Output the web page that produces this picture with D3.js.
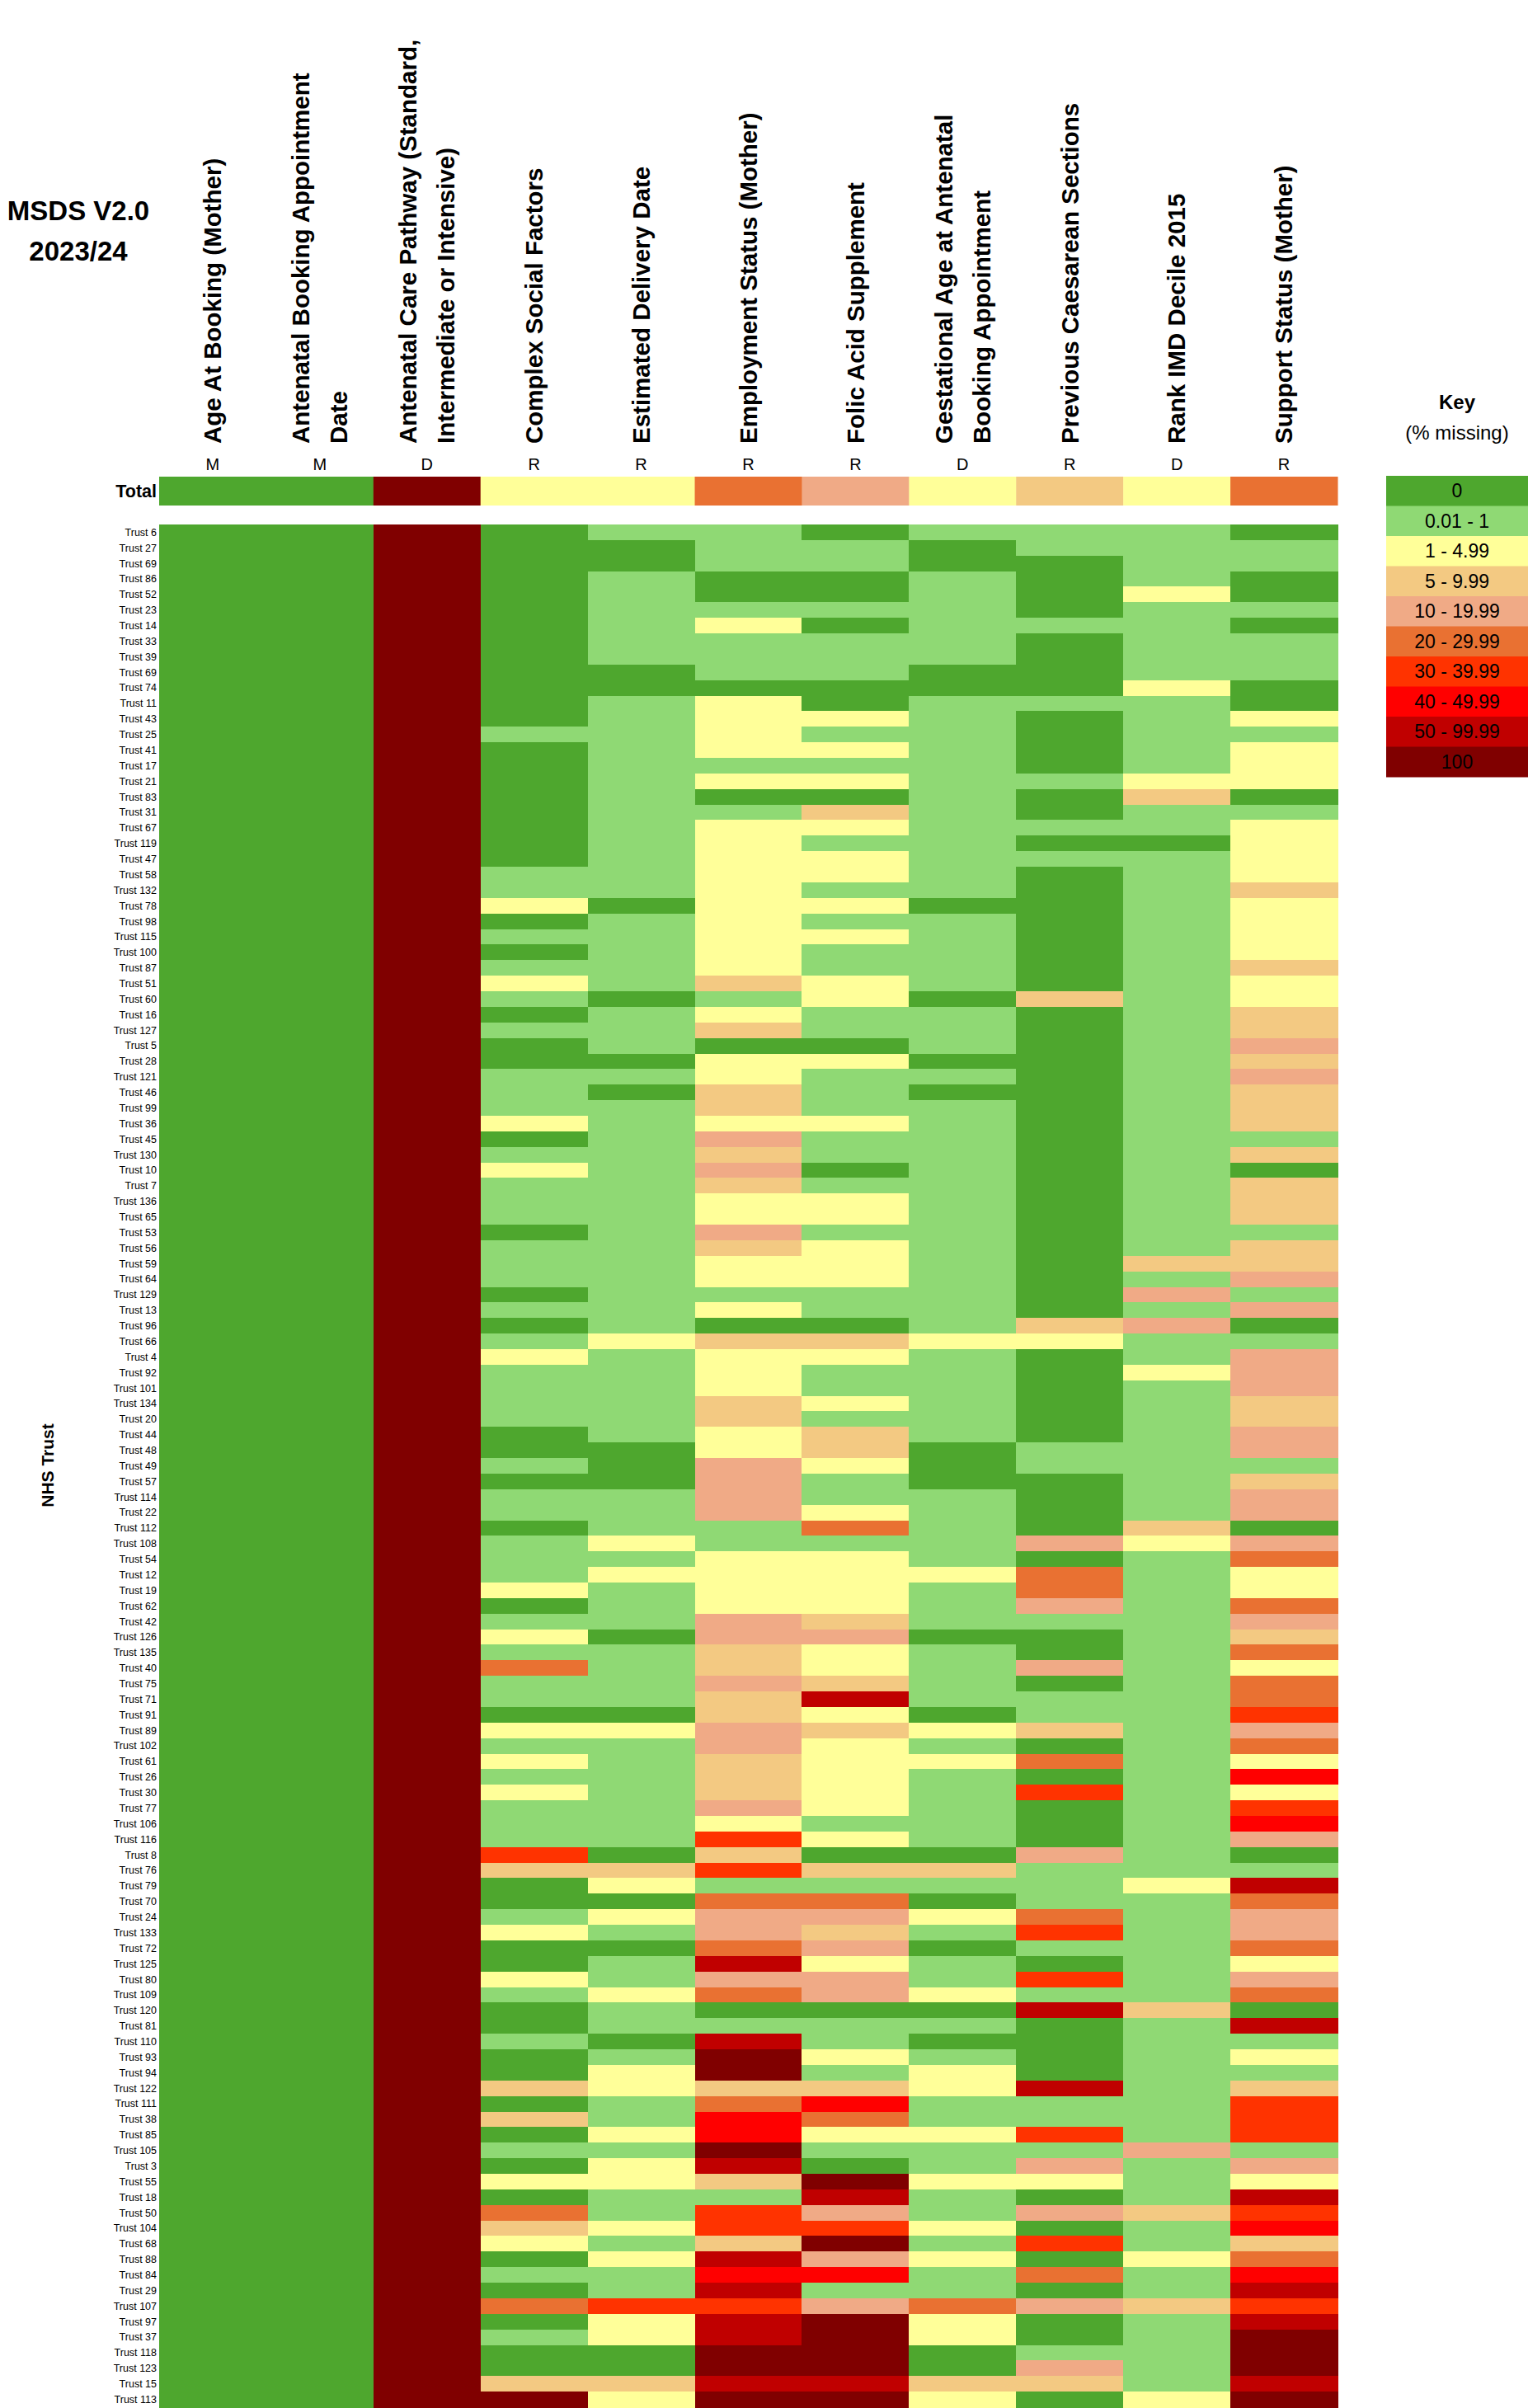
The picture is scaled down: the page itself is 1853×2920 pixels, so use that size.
<!DOCTYPE html>
<html>
<head>
<meta charset="utf-8">
<script src="https://cdn.jsdelivr.net/npm/d3@7"></script>
<style>
  body { margin: 0; background: #fff; }
  svg text { font-family: "Liberation Sans", Arial, sans-serif; fill: #000; }
</style>
</head>
<body>
<script>

// column headers (wrapped lines) and the M / D / R flag under each
const columnHeaders = [
    ["Age At Booking (Mother)"],
    ["Antenatal Booking Appointment", "Date"],
    ["Antenatal Care Pathway (Standard,", "Intermediate or Intensive)"],
    ["Complex Social Factors"],
    ["Estimated Delivery Date"],
    ["Employment Status (Mother)"],
    ["Folic Acid Supplement"],
    ["Gestational Age at Antenatal", "Booking Appointment"],
    ["Previous Caesarean Sections"],
    ["Rank IMD Decile 2015"],
    ["Support Status (Mother)"]
]
const columnFlags = ["M", "M", "D", "R", "R", "R", "R", "D", "R", "D", "R"]

// key bands, 0 = "0" ... 9 = "100"
const bandLabels = ["0", "0.01 - 1", "1 - 4.99", "5 - 9.99", "10 - 19.99", "20 - 29.99",
    "30 - 39.99", "40 - 49.99", "50 - 99.99", "100"]
const bandColours = ["#4ea72e", "#8fd974", "#ffff99", "#f3c982", "#f0aa86", "#e97132",
    "#ff3300", "#ff0000", "#c00000", "#800000"]

const totalBands = [0, 0, 9, 2, 2, 5, 4, 2, 3, 2, 5]

const trusts = [
    "Trust 6", "Trust 27", "Trust 69", "Trust 86", "Trust 52", "Trust 23", "Trust 14", "Trust 33",
    "Trust 39", "Trust 69", "Trust 74", "Trust 11", "Trust 43", "Trust 25", "Trust 41", "Trust 17",
    "Trust 21", "Trust 83", "Trust 31", "Trust 67", "Trust 119", "Trust 47", "Trust 58", "Trust 132",
    "Trust 78", "Trust 98", "Trust 115", "Trust 100", "Trust 87", "Trust 51", "Trust 60", "Trust 16",
    "Trust 127", "Trust 5", "Trust 28", "Trust 121", "Trust 46", "Trust 99", "Trust 36", "Trust 45",
    "Trust 130", "Trust 10", "Trust 7", "Trust 136", "Trust 65", "Trust 53", "Trust 56", "Trust 59",
    "Trust 64", "Trust 129", "Trust 13", "Trust 96", "Trust 66", "Trust 4", "Trust 92", "Trust 101",
    "Trust 134", "Trust 20", "Trust 44", "Trust 48", "Trust 49", "Trust 57", "Trust 114", "Trust 22",
    "Trust 112", "Trust 108", "Trust 54", "Trust 12", "Trust 19", "Trust 62", "Trust 42", "Trust 126",
    "Trust 135", "Trust 40", "Trust 75", "Trust 71", "Trust 91", "Trust 89", "Trust 102", "Trust 61",
    "Trust 26", "Trust 30", "Trust 77", "Trust 106", "Trust 116", "Trust 8", "Trust 76", "Trust 79",
    "Trust 70", "Trust 24", "Trust 133", "Trust 72", "Trust 125", "Trust 80", "Trust 109", "Trust 120",
    "Trust 81", "Trust 110", "Trust 93", "Trust 94", "Trust 122", "Trust 111", "Trust 38", "Trust 85",
    "Trust 105", "Trust 3", "Trust 55", "Trust 18", "Trust 50", "Trust 104", "Trust 68", "Trust 88",
    "Trust 84", "Trust 29", "Trust 107", "Trust 97", "Trust 37", "Trust 118", "Trust 123", "Trust 15",
    "Trust 113"
]

// band index per trust, one entry per column (same order as columnHeaders)
const cellBands = [
    [0,0,9,0,1,1,0,1,1,1,0], [0,0,9,0,0,1,1,0,1,1,1], [0,0,9,0,0,1,1,0,0,1,1], [0,0,9,0,1,0,0,1,0,1,0],
    [0,0,9,0,1,0,0,1,0,2,0], [0,0,9,0,1,1,1,1,0,1,1], [0,0,9,0,1,2,0,1,1,1,0], [0,0,9,0,1,1,1,1,0,1,1],
    [0,0,9,0,1,1,1,1,0,1,1], [0,0,9,0,0,1,1,0,0,1,1], [0,0,9,0,0,0,0,0,0,2,0], [0,0,9,0,1,2,0,1,1,1,0],
    [0,0,9,0,1,2,2,1,0,1,2], [0,0,9,1,1,2,1,1,0,1,1], [0,0,9,0,1,2,2,1,0,1,2], [0,0,9,0,1,1,1,1,0,1,2],
    [0,0,9,0,1,2,2,1,1,2,2], [0,0,9,0,1,0,0,1,0,3,0], [0,0,9,0,1,1,3,1,0,1,1], [0,0,9,0,1,2,2,1,1,1,2],
    [0,0,9,0,1,2,1,1,0,0,2], [0,0,9,0,1,2,2,1,1,1,2], [0,0,9,1,1,2,2,1,0,1,2], [0,0,9,1,1,2,1,1,0,1,3],
    [0,0,9,2,0,2,2,0,0,1,2], [0,0,9,0,1,2,1,1,0,1,2], [0,0,9,1,1,2,2,1,0,1,2], [0,0,9,0,1,2,1,1,0,1,2],
    [0,0,9,1,1,2,1,1,0,1,3], [0,0,9,2,1,3,2,1,0,1,2], [0,0,9,1,0,1,2,0,3,1,2], [0,0,9,0,1,2,1,1,0,1,3],
    [0,0,9,1,1,3,1,1,0,1,3], [0,0,9,0,1,0,0,1,0,1,4], [0,0,9,0,0,2,2,0,0,1,3], [0,0,9,1,1,2,1,1,0,1,4],
    [0,0,9,1,0,3,1,0,0,1,3], [0,0,9,1,1,3,1,1,0,1,3], [0,0,9,2,1,2,2,1,0,1,3], [0,0,9,0,1,4,1,1,0,1,1],
    [0,0,9,1,1,3,1,1,0,1,3], [0,0,9,2,1,4,0,1,0,1,0], [0,0,9,1,1,3,1,1,0,1,3], [0,0,9,1,1,2,2,1,0,1,3],
    [0,0,9,1,1,2,2,1,0,1,3], [0,0,9,0,1,4,1,1,0,1,1], [0,0,9,1,1,3,2,1,0,1,3], [0,0,9,1,1,2,2,1,0,3,3],
    [0,0,9,1,1,2,2,1,0,1,4], [0,0,9,0,1,1,1,1,0,4,1], [0,0,9,1,1,2,1,1,0,1,4], [0,0,9,0,1,0,0,1,3,4,0],
    [0,0,9,1,2,3,3,2,2,1,1], [0,0,9,2,1,2,2,1,0,1,4], [0,0,9,1,1,2,1,1,0,2,4], [0,0,9,1,1,2,1,1,0,1,4],
    [0,0,9,1,1,3,2,1,0,1,3], [0,0,9,1,1,3,1,1,0,1,3], [0,0,9,0,1,2,3,1,0,1,4], [0,0,9,0,0,2,3,0,1,1,4],
    [0,0,9,1,0,4,2,0,1,1,1], [0,0,9,0,0,4,1,0,0,1,3], [0,0,9,1,1,4,1,1,0,1,4], [0,0,9,1,1,4,2,1,0,1,4],
    [0,0,9,0,1,1,5,1,0,3,0], [0,0,9,1,2,1,1,1,4,2,4], [0,0,9,1,1,2,2,1,0,1,5], [0,0,9,1,2,2,2,2,5,1,2],
    [0,0,9,2,1,2,2,1,5,1,2], [0,0,9,0,1,2,2,1,4,1,5], [0,0,9,1,1,4,3,1,1,1,4], [0,0,9,2,0,4,4,0,0,1,3],
    [0,0,9,1,1,3,2,1,0,1,5], [0,0,9,5,1,3,2,1,4,1,2], [0,0,9,1,1,4,3,1,0,1,5], [0,0,9,1,1,3,8,1,1,1,5],
    [0,0,9,0,0,3,2,0,1,1,6], [0,0,9,2,2,4,3,2,3,1,4], [0,0,9,1,1,4,2,1,0,1,5], [0,0,9,2,1,3,2,2,5,1,2],
    [0,0,9,1,1,3,2,1,0,1,7], [0,0,9,2,1,3,2,1,6,1,2], [0,0,9,1,1,4,2,1,0,1,6], [0,0,9,1,1,2,1,1,0,1,7],
    [0,0,9,1,1,6,2,1,0,1,4], [0,0,9,6,0,3,0,0,4,1,0], [0,0,9,3,3,6,3,3,1,1,1], [0,0,9,0,2,1,1,1,1,2,8],
    [0,0,9,0,0,5,5,0,1,1,5], [0,0,9,1,2,4,4,2,5,1,4], [0,0,9,2,1,4,3,1,6,1,4], [0,0,9,0,0,5,4,0,1,1,5],
    [0,0,9,0,1,8,2,1,0,1,2], [0,0,9,2,1,4,4,1,6,1,4], [0,0,9,1,2,5,4,2,1,1,5], [0,0,9,0,1,0,0,0,8,3,0],
    [0,0,9,0,1,1,1,1,0,1,8], [0,0,9,1,0,8,1,0,0,1,1], [0,0,9,0,1,9,2,1,0,1,2], [0,0,9,0,2,9,1,2,0,1,1],
    [0,0,9,3,2,3,3,2,8,1,3], [0,0,9,0,1,5,7,1,1,1,6], [0,0,9,3,1,7,5,1,1,1,6], [0,0,9,0,2,7,2,2,6,1,6],
    [0,0,9,1,1,9,1,1,1,4,1], [0,0,9,0,2,8,0,1,4,1,4], [0,0,9,2,2,3,9,2,2,1,2], [0,0,9,0,1,1,8,1,0,1,8],
    [0,0,9,5,1,6,4,1,4,3,6], [0,0,9,3,2,6,6,2,0,1,7], [0,0,9,2,1,3,9,1,6,1,3], [0,0,9,0,2,8,4,2,0,2,5],
    [0,0,9,1,1,7,7,1,5,1,7], [0,0,9,0,1,8,1,1,0,1,8], [0,0,9,5,6,6,4,5,4,3,6], [0,0,9,0,2,8,9,2,0,1,8],
    [0,0,9,1,2,8,9,2,0,1,9], [0,0,9,0,0,9,9,0,1,1,9], [0,0,9,0,0,9,9,0,4,1,9], [0,0,9,3,3,8,8,3,3,1,8],
    [0,0,9,9,2,9,9,2,0,2,9]
]

window.onload = function (){

    const width = 1853
    const height = 2920

    const svg = d3.select('body')
        .append('svg')
        .attr('width', width)
        .attr('height', height)

    const x = d3.scaleBand()
        .domain(d3.range(columnHeaders.length))
        .range([193, 1622])

    const y = d3.scaleBand()
        .domain(d3.range(trusts.length))
        .range([636, 2919])

    const colour = d3.scaleOrdinal()
        .domain(d3.range(bandLabels.length))
        .range(bandColours)

    const totalRow = {top: 578, height: 35}

    // title
    const title = svg.append('g')
        .attr('transform', getTranslateString(95, 0))
        .style('font-weight', 'bold')
        .style('font-size', '33px')
        .attr('text-anchor', 'middle')
    title.append('text').attr('y', 255).attr('dy', '0.35em').text('MSDS V2.0')
    title.append('text').attr('y', 304).attr('dy', '0.35em').text('2023/24')

    // rotated column headers
    const lineGap = 46
    const headers = svg.append('g')
        .selectAll('g.header')
        .data(columnHeaders)
        .join('g')
        .attr('class', 'header')

    headers.selectAll('text')
        .data(d => d.map((line, i) => ({line: line, offset: (i - (d.length - 1) / 2) * lineGap})))
        .join('text')
        .attr('transform', function(d){
            const col = columnHeaders.indexOf(d3.select(this.parentNode).datum())
            const cx = x(col) + x.bandwidth() / 2 + d.offset
            return getTranslateString(cx, 538) + ' rotate(-90)'
        })
        .attr('dy', '0.35em')
        .style('font-weight', 'bold')
        .style('font-size', '29.5px')
        .text(d => d.line)

    // M / D / R flags
    svg.append('g')
        .selectAll('text')
        .data(columnFlags)
        .join('text')
        .attr('x', (d, i) => x(i) + x.bandwidth() / 2)
        .attr('y', 563)
        .attr('dy', '0.35em')
        .attr('text-anchor', 'middle')
        .style('font-size', '20px')
        .text(d => d)

    // total row
    svg.append('text')
        .attr('x', 190)
        .attr('y', totalRow.top + totalRow.height / 2)
        .attr('dy', '0.35em')
        .attr('text-anchor', 'end')
        .style('font-weight', 'bold')
        .style('font-size', '21.5px')
        .text('Total')

    svg.append('g')
        .selectAll('rect')
        .data(totalBands)
        .join('rect')
        .attr('x', (d, i) => x(i))
        .attr('y', totalRow.top)
        .attr('width', x.bandwidth() + 0.5)
        .attr('height', totalRow.height)
        .attr('fill', d => colour(d))

    // trust cells
    const cells = []
    cellBands.forEach((row, r) => row.forEach((band, c) => cells.push({r: r, c: c, band: band})))

    svg.append('g')
        .attr('shape-rendering', 'crispEdges')
        .selectAll('rect')
        .data(cells)
        .join('rect')
        .attr('x', d => x(d.c))
        .attr('y', d => y(d.r))
        .attr('width', x.bandwidth() + 0.5)
        .attr('height', y.bandwidth() + 0.5)
        .attr('fill', d => colour(d.band))

    // trust labels
    svg.append('g')
        .selectAll('text')
        .data(trusts)
        .join('text')
        .attr('x', 190)
        .attr('y', (d, i) => y(i) + y.bandwidth() / 2)
        .attr('dy', '0.35em')
        .attr('text-anchor', 'end')
        .style('font-size', '12.5px')
        .text(d => d)

    svg.append('text')
        .attr('transform', getTranslateString(58, 1777) + ' rotate(-90)')
        .attr('dy', '0.35em')
        .attr('text-anchor', 'middle')
        .style('font-weight', 'bold')
        .style('font-size', '21px')
        .text('NHS Trust')

    // key
    const keyX = 1681
    const keyWidth = 172
    const keyY = d3.scaleBand()
        .domain(d3.range(bandLabels.length))
        .range([577, 942])

    svg.append('text')
        .attr('x', keyX + keyWidth / 2)
        .attr('y', 488)
        .attr('dy', '0.35em')
        .attr('text-anchor', 'middle')
        .style('font-weight', 'bold')
        .style('font-size', '24px')
        .text('Key')

    svg.append('text')
        .attr('x', keyX + keyWidth / 2)
        .attr('y', 525)
        .attr('dy', '0.35em')
        .attr('text-anchor', 'middle')
        .style('font-size', '24px')
        .text('(% missing)')

    const keyRows = svg.append('g')
        .selectAll('g')
        .data(bandLabels)
        .join('g')
        .attr('transform', (d, i) => getTranslateString(keyX, keyY(i)))

    keyRows.append('rect')
        .attr('width', keyWidth)
        .attr('height', keyY.bandwidth() + 0.5)
        .attr('fill', (d, i) => colour(i))

    keyRows.append('text')
        .attr('x', keyWidth / 2)
        .attr('y', keyY.bandwidth() / 2)
        .attr('dy', '0.35em')
        .attr('text-anchor', 'middle')
        .style('font-size', '23px')
        .text(d => d)

}

function getTranslateString(x, y){
    return 'translate(' + x + ',' + y + ')'
}
</script>
</body>
</html>
